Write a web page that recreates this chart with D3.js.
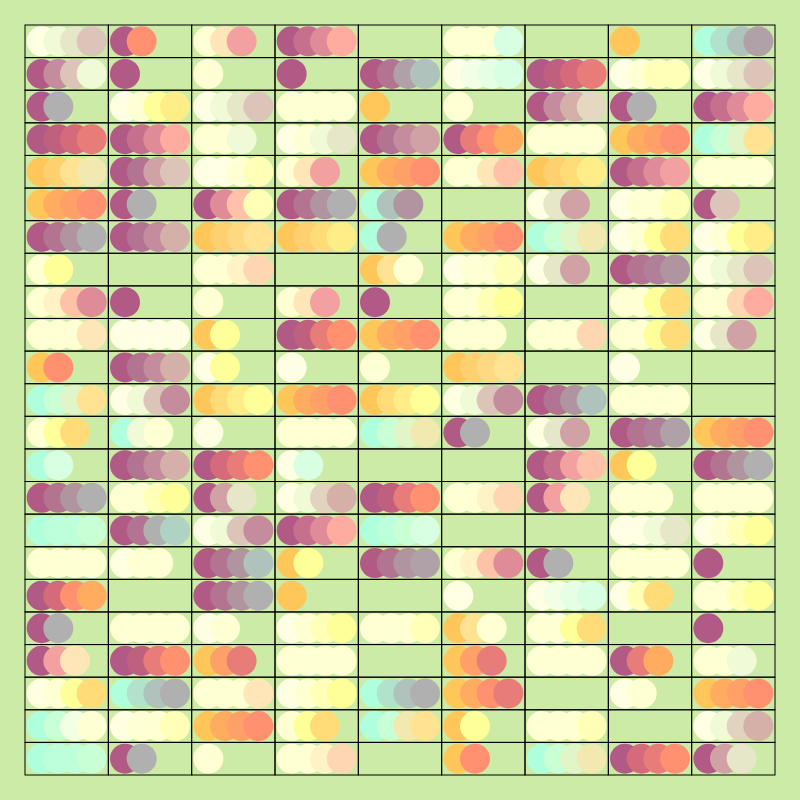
<!DOCTYPE html>
<html><head><meta charset="utf-8">
<script src="https://cdn.jsdelivr.net/npm/d3@7"></script>
<style>html,body{margin:0;padding:0;background:#cceba6;}</style>
</head><body>
<div id="chart"></div>
<script>
// Column and row categories
const columns = ["C1","C2","C3","C4","C5","C6","C7","C8","C9"];
const rows = d3.range(1,24).map(i => "R" + i);

// Each cell: a string of colour-level codes, one per dot
const row01 = ["wVBb","PO","WCS","PkKL","","WWWm","","Y","Mhgn"];
const row02 = ["PHbV","P","W","P","Pqng","wajm","PxXR","wWss","wVBb"];
const row03 = ["PG","wWzZ","wVBb","WWWW","Y","W","PHdT","PG","PkKL"];
const row04 = ["PxXR","PkKL","WWV","wWVB","PqHD","PROA","WWWW","YAoO","Mivu"];
const row05 = ["YtuF","PqDb","wwWs","WCS","YAoO","WWCE","YtyZ","PkKS","WWWW"];
const row06 = ["YAoO","PG","PKEs","PqrG","Mgr","","wBD","wWWs","Pb"];
const row07 = ["PqrG","PqHd","Ytlu","YtyZ","MG","YAoO","MivF","wWzy","wWzZ"];
const row08 = ["Wz","","WWQe","","YuW","wWWs","wBD","PqIr","wVBb"];
const row09 = ["WQEK","P","W","WCS","P","WWsz","","WWzy","WWeL"];
const row10 = ["WWWC","wwww","Yz","PxRO","YAoO","WWW","WWWe","WWzy","wBD"];
const row11 = ["YO","PqHd","wz","w","W","Ytlu","","w",""];
const row12 = ["Mivu","wVbH","YyZz","YAoO","YyZz","wVbH","Pqrg","WWWW",""];
const row13 = ["Wzy","MVW","w","WWWW","MivF","PG","wBD","PqIn","YAoO"];
const row14 = ["Mm","PqHd","PXRO","wm","","","PkSE","Yz","PqrG"];
const row15 = ["PqrG","WWsz","PDB","wVcd","PxRO","WWQe","PSC","WWW","WWWW"];
const row16 = ["MNNi","PqGf","wVbH","PkKL","MNim","","","wwVB","wWsz"];
const row17 = ["WWWW","wWW","Pqrg","Yz","Pqrn","WQEK","PG","WWWW","P"];
const row18 = ["PXOA","","PqrG","Y","","w","wajm","wsy","WWsz"];
const row19 = ["PG","WWWW","wW","wWsz","WWWs","YuW","WWzy","","P"];
const row20 = ["PSC","PxRO","YoR","WWWW","","YoR","WWWW","PRA","WWV"];
const row21 = ["wWzy","MhgG","WWWC","wWsz","MhgG","YAOR","","wW","YAoO"];
const row22 = ["MiaW","wWWs","YAoO","Wzy","MiFu","Yz","WWWs","","wVcd"];
const row23 = ["MNNi","PG","W","WWQe","","YO","MivF","PXRO","PDB"];
const cellValues = [row01,row02,row03,row04,row05,row06,row07,row08,row09,row10,row11,row12,
  row13,row14,row15,row16,row17,row18,row19,row20,row21,row22,row23];

// Colour for each level code
const palette = {
  P:"#b25a86", q:"#b27491", I:"#b0809a", r:"#b0949f", n:"#b0a0a8", G:"#b0b0b0",
  g:"#b0c2bc", f:"#b0d2c4", h:"#b0e2cc", M:"#b0ffdc", N:"#bcffda", i:"#c8ffd4",
  m:"#d8ffe2", j:"#e6ffe4", a:"#f2ffe4",
  x:"#c0607f", k:"#c6708e", X:"#d46a7a", R:"#e87c78", K:"#e08c98", S:"#f2a0a0",
  L:"#ffaca0", E:"#ffc2a8", e:"#ffd6b2", O:"#ff9070", o:"#ffa068", A:"#ffac60",
  Y:"#ffc65a", t:"#ffd070", l:"#ffd882", y:"#ffdc78", u:"#ffe292", Z:"#ffee88",
  z:"#ffff99", s:"#ffffb8", W:"#ffffd4", w:"#ffffe4", V:"#f0fad6", v:"#e0f5c8",
  B:"#e6e6c8", b:"#dcc4b8", c:"#e2d2c0", C:"#ffe6b8", Q:"#fff2c4", D:"#d0a2a6",
  d:"#d4b0a8", H:"#c48c9c", F:"#f2e9b0", T:"#e4d8c0"
};

const W = 800, H = 800;
const svg = d3.select("#chart").append("svg").attr("width", W).attr("height", H);
svg.append("rect").attr("width", W).attr("height", H).attr("fill", "#ccebA6");

const x = d3.scaleBand().domain(columns).range([25, 775]);
const y = d3.scaleBand().domain(rows).range([25, 775]);
const slot = d3.scaleLinear().domain([0, 5]).range([0, x.bandwidth()]);

const cells = [];
rows.forEach((rw, ri) => columns.forEach((cl, ci) => {
  cells.push({row: rw, col: cl, codes: cellValues[ri][ci].split("")});
}));

const g = svg.append("g");
const cg = g.selectAll("g.cell").data(cells).join("g").attr("class", "cell")
  .attr("transform", d => `translate(${x(d.col)},${y(d.row)})`);

cg.append("rect")
  .attr("width", x.bandwidth()).attr("height", y.bandwidth())
  .attr("fill", "none").attr("stroke", "#000").attr("stroke-width", 1);

cg.selectAll("circle").data(d => d.codes).join("circle")
  .attr("cx", (d, i) => slot(i + 1))
  .attr("cy", y.bandwidth() / 2)
  .attr("r", 15)
  .attr("fill", d => palette[d]);
</script>
</body></html>
